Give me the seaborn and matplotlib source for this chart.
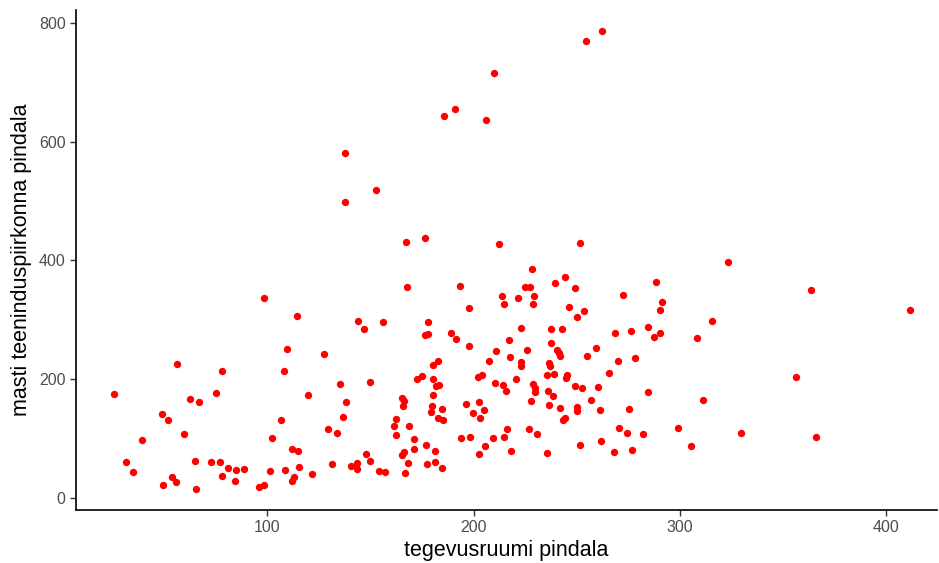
import numpy as np
import pandas as pd
import matplotlib
matplotlib.use("Agg")
import matplotlib.pyplot as plt
import seaborn as sns

# --- Data ---
tegevusruumi = [
    98.5, 56.1, 78.0, 109.5, 108.2, 25.8, 62.5, 67.0, 75.0, 48.8,
    52.0, 106.6, 59.6, 39.3, 102.4, 112.1, 31.7, 34.8, 64.8, 72.9,
    76.9, 81.1, 85.0, 88.7, 78.0, 84.3, 101.2, 108.6, 111.8, 112.8,
    53.8, 55.7, 49.3, 65.4, 95.8, 98.3,
    197.8, 114.5, 143.8, 147.0, 155.9, 178.0, 176.4, 177.9, 188.9, 191.5,
    197.8, 127.5, 182.6, 180.2, 172.7, 174.8, 180.3, 181.6, 183.1, 202.3,
    135.2, 149.6, 119.9, 180.5, 165.3, 166.3, 165.6, 138.3, 180.0, 179.2,
    184.8, 196.2, 202.6, 199.6, 182.6, 185.2, 136.8, 162.4, 161.6, 168.7,
    162.4, 129.3, 133.8, 171.0, 193.8, 198.1, 203.0, 176.9, 171.3, 114.7,
    181.4, 166.1, 165.1, 147.8, 149.6, 168.2, 177.6, 181.4, 184.8, 202.5,
    131.2, 115.4, 140.7, 143.6, 143.0, 143.3, 154.0, 157.1, 166.7, 121.8,
    212.3, 251.6, 228.3, 224.9, 227.2, 213.8, 214.6, 221.5, 229.3, 228.8,
    239.5, 244.3, 249.2, 246.1, 253.5, 250.1, 288.3, 272.4, 291.3, 290.2,
    222.8, 237.5, 243.0, 268.7, 276.4, 284.4, 287.6, 290.5, 217.3, 237.7,
    210.7, 226.0, 240.6, 241.2, 242.0, 259.5, 254.8, 270.1, 278.1, 207.6,
    217.8, 223.1, 223.0, 236.4, 237.0, 204.2, 235.6, 239.0, 245.1, 244.6,
    265.5, 210.5, 214.4, 215.9, 220.6, 228.8, 229.6, 229.6, 235.9, 238.5,
    249.2, 252.5, 260.3, 284.4, 205.2, 227.7, 236.4, 241.9, 250.1, 250.3,
    257.1, 261.1, 275.2, 243.5, 244.4, 216.0, 226.9, 230.7, 214.6, 209.6,
    205.7, 218.1, 235.4, 251.4, 261.9, 270.5, 274.5, 282.3, 268.2, 276.9,
    190.8, 185.8, 137.8, 152.8, 137.8, 167.1, 176.3, 167.6, 193.3,
    262.4, 254.6, 210.0, 205.9,
    323.2, 363.4, 411.7, 315.4, 308.1, 356.1, 311.3, 299.2, 329.8, 366.0,
    305.4,
]
teenindus = [
    336, 225.1, 213.8, 250.3, 214.3, 175.6, 167.2, 161.6, 176.3, 140.9,
    131.3, 131.8, 108.2, 97.1, 101.5, 82.0, 61.1, 43.8, 62.8, 60.6,
    61.1, 50.0, 46.6, 48.8, 37.5, 29.1, 44.9, 47.1, 29.1, 35.9,
    34.8, 27.4, 22.4, 15.2, 18.0, 21.9,
    319.4, 306.9, 298.0, 284.5, 295.8, 296.8, 274.9, 276.6, 278.3, 267.2,
    255.9, 241.9, 231.1, 223.9, 200.3, 205.4, 200.3, 189.1, 190.7, 203.2,
    192.4, 194.8, 173.4, 173.4, 167.8, 163.3, 154.4, 161.1, 154.9, 144.3,
    149.3, 157.7, 161.6, 142.6, 135.2, 130.8, 136.9, 133.0, 121.7, 121.7,
    106.6, 115.7, 109.4, 99.8, 101.5, 103.2, 134.0, 89.7, 83.0, 78.6,
    78.6, 77.4, 72.4, 74.1, 61.8, 58.4, 56.7, 60.6, 50.5, 74.1,
    56.7, 52.7, 54.4, 58.9, 53.9, 48.8, 44.9, 43.3, 41.6, 39.9,
    427.6, 429.8, 385.5, 355.7, 354.7, 340.1, 326.6, 336.2, 340.1, 326.1,
    361.4, 372.1, 353.0, 322.1, 315.3, 304.2, 363.1, 341.8, 329.5, 317.0,
    285.7, 285.0, 284.5, 277.8, 280.6, 287.4, 271.5, 277.3, 266.5, 260.4,
    247.0, 249.2, 249.2, 244.6, 239.6, 252.0, 238.6, 230.1, 235.7, 231.1,
    236.9, 228.5, 221.7, 227.8, 222.2, 207.6, 207.1, 209.3, 206.6, 201.5,
    210.4, 193.1, 190.7, 179.6, 199.8, 191.9, 185.7, 179.0, 180.1, 172.2,
    189.1, 185.7, 186.4, 179.0, 147.6, 163.8, 157.1, 151.0, 152.7, 146.0,
    165.5, 147.6, 150.3, 130.8, 135.2, 116.2, 115.7, 108.2, 103.2, 100.5,
    87.5, 79.6, 75.3, 89.7, 96.5, 117.3, 108.9, 108.2, 76.9, 80.8,
    654.4, 643.1, 580.3, 518.5, 497.8, 431.5, 437.7, 355.7, 357.4,
    785.7, 769.9, 716.0, 636.9,
    397.3, 350.2, 316.0, 298.5, 268.9, 203.2, 165.5, 118.4, 109.9, 102.2,
    87.5,
]

x_ticks = [100, 200, 300, 400]
y_ticks = [0, 200, 400, 600, 800]

df = pd.DataFrame({"tegevusruumi pindala": tegevusruumi,
                   "masti teeninduspiirkonna pindala": teenindus})

sns.set_style("ticks")
plt.rcParams["font.family"] = ["Liberation Sans", "DejaVu Sans"]

fig = plt.figure(figsize=(9.39, 5.63), dpi=100)
ax = fig.add_axes([76 / 939, 53 / 563, 861 / 939, 500 / 563])

sns.scatterplot(data=df, x="tegevusruumi pindala", y="masti teeninduspiirkonna pindala",
                color="#FF0000", s=28, linewidth=0, ax=ax)

ax.set_xlim(7.3, 424.6)
ax.set_ylim(-20.2, 821.5)
ax.set_xticks(x_ticks)
ax.set_yticks(y_ticks)
ax.tick_params(axis="both", colors="#333333", labelcolor="#4D4D4D",
               labelsize=11.5, length=4, width=1)
ax.set_xlabel("tegevusruumi pindala", fontsize=15.5, color="black", labelpad=3)
ax.set_ylabel("masti teeninduspiirkonna pindala", fontsize=15.5, color="black", labelpad=5)
sns.despine(ax=ax)
for side in ["left", "bottom"]:
    ax.spines[side].set_linewidth(1.2)
    ax.spines[side].set_color("black")

fig.savefig("out.png", dpi=100)
